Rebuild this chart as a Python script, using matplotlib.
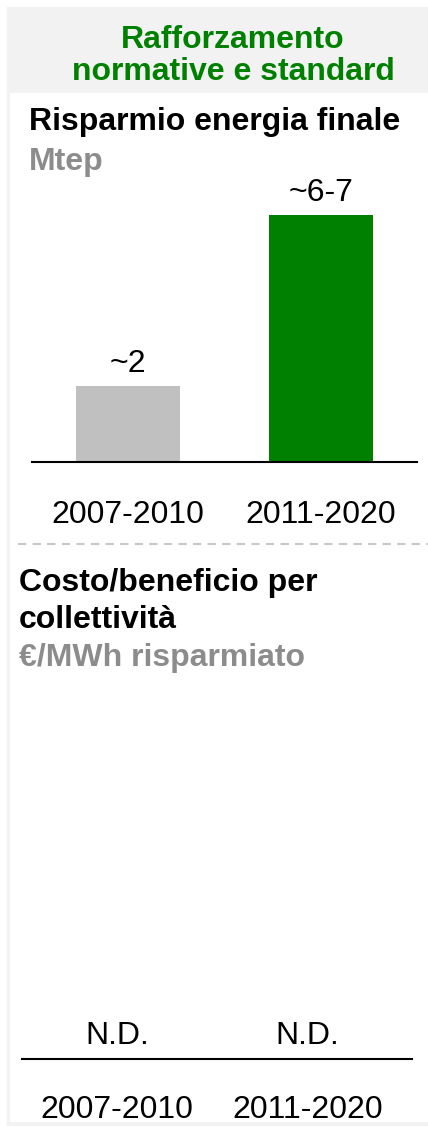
import matplotlib
matplotlib.use("Agg")
import matplotlib.pyplot as plt
from matplotlib.patches import Rectangle
from matplotlib.lines import Line2D

plt.rcParams["font.family"] = ["Liberation Sans", "DejaVu Sans"]

W, H = 428, 1127
GREEN = "#008000"
GREY_BAR = "#c0c0c0"
GREY_TXT = "#8c8c8c"
PANEL = "#f2f2f2"
FS = 23

periods = ["2007-2010", "2011-2020"]
savings = [2, 6.5]
savings_labels = ["~2", "~6-7"]
bar_colors = [GREY_BAR, GREEN]
cost_labels = ["N.D.", "N.D."]


def fx(x):
    return x / W


def fy(y):
    return 1 - y / H


def box(x0, y0, x1, y1):
    # pixel box (top-left origin) -> figure-fraction rect
    return [fx(x0), fy(y1), (x1 - x0) / W, (y1 - y0) / H]


fig = plt.figure(figsize=(W / 100, H / 100), dpi=100)
fig.patch.set_facecolor("white")

# grey frame + header band, white body (behind the axes)
fig.patches.append(Rectangle((fx(7), fy(1125)), fx(428) - fx(7), fy(7) - fy(1125),
                             transform=fig.transFigure, color=PANEL, zorder=-2))
fig.patches.append(Rectangle((fx(10), fy(1121)), fx(428) - fx(10), fy(93) - fy(1121),
                             transform=fig.transFigure, color="white", zorder=-1))

fig.text(fx(233), fy(56), "Rafforzamento\nnormative e standard", color=GREEN,
         fontsize=FS, fontweight="bold", ha="center", va="center", linespacing=1.1)

# ---- section 1: final energy savings ----
fig.text(fx(29), fy(130), "Risparmio energia finale", fontsize=FS, fontweight="bold",
         va="baseline")
fig.text(fx(29), fy(170), "Mtep", fontsize=FS, fontweight="bold", color=GREY_TXT,
         va="baseline")

ax = fig.add_axes(box(32, 170, 417, 462))
x = range(len(periods))
ax.bar(x, savings, width=0.54, color=bar_colors)
ax.set_xlim(-0.5, 1.5)
ax.set_ylim(0, 7.68)
for sp in ["left", "top", "right"]:
    ax.spines[sp].set_visible(False)
ax.spines["bottom"].set_linewidth(1.5)
ax.set_xticks([]); ax.set_yticks([])
ax.patch.set_alpha(0)
for i, (v, lab) in enumerate(zip(savings, savings_labels)):
    ax.annotate(lab, (i, v), xytext=(0, 15.5), textcoords="offset points",
                ha="center", va="center", fontsize=FS)
    ax.annotate(periods[i], (i, 0), xytext=(0, -38.2), textcoords="offset points",
                ha="center", va="center", fontsize=FS)

fig.add_artist(Line2D([fx(18), fx(428)], [fy(544), fy(544)], transform=fig.transFigure,
                      color="#c8c8c8", lw=1.5, ls=(0, (4, 3))))

# ---- section 2: cost/benefit ----
fig.text(fx(19), fy(591), "Costo/beneficio per", fontsize=FS, fontweight="bold",
         va="baseline")
fig.text(fx(19), fy(628), "collettività", fontsize=FS, fontweight="bold",
         va="baseline")
fig.text(fx(19), fy(666), "€/MWh risparmiato", fontsize=FS, fontweight="bold",
         color=GREY_TXT, va="baseline")

ax2 = fig.add_axes(box(22, 900, 412, 1059))
ax2.set_xlim(-0.5, 1.55)
ax2.set_ylim(0, 1)
for sp in ["left", "top", "right"]:
    ax2.spines[sp].set_visible(False)
ax2.spines["bottom"].set_linewidth(1.5)
ax2.set_xticks([]); ax2.set_yticks([])
ax2.patch.set_alpha(0)
for i, lab in enumerate(cost_labels):
    ax2.annotate(lab, (i, 0), xytext=(0, 16.5), textcoords="offset points",
                 ha="center", va="center", fontsize=FS)
    ax2.annotate(periods[i], (i, 0), xytext=(0, -36.8), textcoords="offset points",
                 ha="center", va="center", fontsize=FS)

fig.savefig("out.png", dpi=100)
